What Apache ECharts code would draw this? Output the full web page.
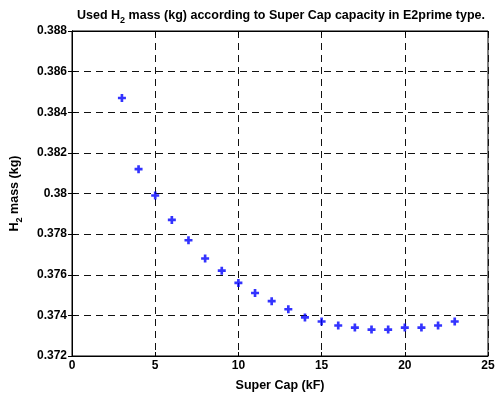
<!DOCTYPE html>
<html>
<head>
<meta charset="utf-8">
<script src="https://cdn.jsdelivr.net/npm/echarts@6/dist/echarts.min.js"></script>
<style>html,body{margin:0;padding:0;background:#fff;}#c{width:501px;height:397px;}</style>
</head>
<body>
<div id="c"></div>
<script>
const superCap = [3, 4, 5, 6, 7, 8, 9, 10, 11, 12, 13, 14, 15, 16, 17, 18, 19, 20, 21, 22, 23];
const h2Mass = [0.3847, 0.3812, 0.3799, 0.3787, 0.3777, 0.3768, 0.3762, 0.3756, 0.3751, 0.3747, 0.3743,
  0.3739, 0.3737, 0.3735, 0.3734, 0.3733, 0.3733, 0.3734, 0.3734, 0.3735, 0.3737];
const xTicks = [0, 5, 10, 15, 20, 25];
const yTicks = [0.372, 0.374, 0.376, 0.378, 0.38, 0.382, 0.384, 0.386, 0.388];

const FONT = 'Liberation Sans, Arial, sans-serif';
const plus = 'path://M3,0 L6,0 L6,3 L9,3 L9,6 L6,6 L6,9 L3,9 L3,6 L0,6 L0,3 L3,3 Z';
const gridLine = { show: true, lineStyle: { color: '#111', type: [7, 5], width: 1 } };
const lbl = { color: '#000', fontFamily: FONT, fontWeight: 'bold', fontSize: 12 };
const nameStyle = { color: '#000', fontFamily: FONT, fontWeight: 'bold', fontSize: 12.5 };
const subStyle = { fontFamily: FONT, fontWeight: 'bold', fontSize: 9, color: '#000', padding: [10, 0, 0, 0] };

const chart = echarts.init(document.getElementById('c'));
chart.setOption({
  animation: false,
  backgroundColor: '#fff',
  title: {
    text: 'Used H{sub|2} mass (kg) according to Super Cap capacity in E2prime type.',
    left: 276, textAlign: 'center', top: 1,
    textStyle: Object.assign({ rich: { sub: subStyle } }, nameStyle)
  },
  grid: { left: 72, right: 13, top: 31, bottom: 38, show: true, borderColor: '#000', borderWidth: 1 },
  xAxis: [{
    type: 'value', min: 0, max: 25, interval: 5,
    name: 'Super Cap (kF)', nameLocation: 'middle', nameGap: 23,
    nameTextStyle: nameStyle,
    axisLine: { show: true, lineStyle: { color: '#000' } },
    axisTick: { show: true, inside: true, length: 4, lineStyle: { color: '#000' } },
    axisLabel: Object.assign({ margin: 4, formatter: v => xTicks.includes(v) ? String(v) : '' }, lbl),
    splitLine: gridLine
  }, {
    type: 'value', position: 'top', min: 0, max: 25, interval: 5,
    axisLine: { show: true, lineStyle: { color: '#000' } },
    axisTick: { show: true, inside: true, length: 4, lineStyle: { color: '#000' } },
    axisLabel: { show: false }, splitLine: { show: false }
  }],
  yAxis: [{
    type: 'value', min: 0.372, max: 0.388, interval: 0.002,
    name: 'H{sub|2} mass (kg)', nameLocation: 'middle', nameGap: 48, nameRotate: 90,
    nameTextStyle: Object.assign({ rich: { sub: subStyle } }, nameStyle),
    axisLine: { show: true, lineStyle: { color: '#000' } },
    axisTick: { show: true, inside: true, length: 4, lineStyle: { color: '#000' } },
    axisLabel: Object.assign({ margin: 5, formatter: v => { const m = yTicks.find(t => Math.abs(t - v) < 1e-9); return m === undefined ? '' : String(m); } }, lbl),
    splitLine: gridLine
  }, {
    type: 'value', position: 'right', min: 0.372, max: 0.388, interval: 0.002,
    axisLine: { show: true, lineStyle: { color: '#000' } },
    axisTick: { show: true, inside: true, length: 4, lineStyle: { color: '#000' } },
    axisLabel: { show: false }, splitLine: { show: false }
  }],
  series: [{
    type: 'scatter',
    data: superCap.map((x, i) => [x, h2Mass[i]]),
    symbol: plus, symbolSize: 8,
    itemStyle: { color: '#0000ff' }
  }]
});
</script>
</body>
</html>
